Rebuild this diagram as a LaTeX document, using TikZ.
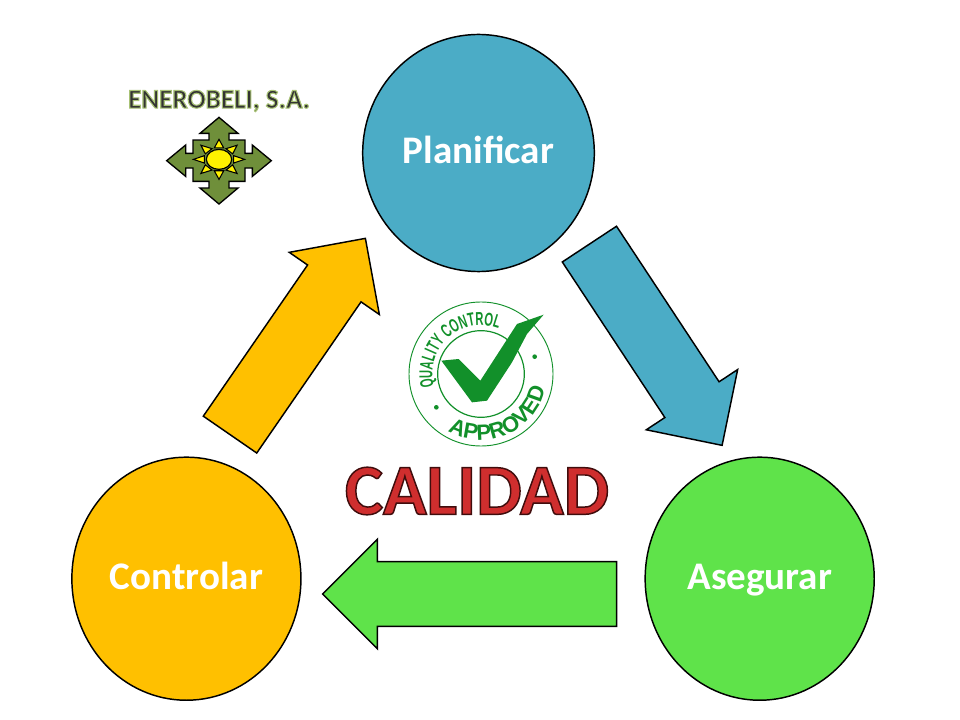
\documentclass[tikz,border=0pt]{standalone}
\usepackage{fontspec}
\setmainfont{Carlito}
\newfontfamily\stampslim[FakeStretch=0.6]{Liberation Sans}
\newfontfamily\stampwide{Liberation Sans}
\usetikzlibrary{shapes.geometric}
\usetikzlibrary{shapes.arrows}
\usetikzlibrary{decorations.text}
\definecolor{planblue}{HTML}{4BACC6}
\definecolor{asegreen}{HTML}{5FE34A}
\definecolor{ctrlyellow}{HTML}{FFC000}
\definecolor{logoolive}{HTML}{6F8F3A}
\definecolor{stampgreen}{HTML}{12902A}
\definecolor{calidadred}{HTML}{CF2E2E}
% fill with one colour and stroke the outline with another
\newcommand{\strokedtext}[3]{\special{pdf:code q 2 Tr #1 RG #2 w}#3\special{pdf:code Q}}
\tikzset{
  stage/.style      = { ellipse, draw=black, line width=1.1pt, inner sep=0pt, text=white,
                        text height=16pt, text depth=0pt,
                        font=\fontsize{29.3}{32}\selectfont\bfseries },
  blockarrow/.style = { single arrow, draw=black, line width=1.1pt, inner xsep=0pt, inner ysep=23.8pt,
                        single arrow head extend=16.7pt, anchor=tail },
  stampline/.style  = { draw=stampgreen, line width=.7pt },
  stamptext/.style  = { decorate, decoration={text along path, text align=center,
                        text color=stampgreen, text={#1}} },
}

\begin{document}
\begin{tikzpicture}[x=.75pt,y=-.75pt]
  \useasboundingbox (0,0) rectangle (960,720);

  \node (plan) [stage,fill=planblue,minimum width=173.7pt,minimum height=177.8pt]   at (478.5,153) {Planificar};
  \node (aseg) [stage,fill=asegreen,minimum width=171.8pt,minimum height=182.3pt]   at (759.7,578.7) {Asegurar};
  \node (ctrl) [stage,fill=ctrlyellow,minimum width=171.8pt,minimum height=182.3pt] at (186.4,578.7) {Controlar};

  \node (planaseg) [blockarrow,fill=planblue,minimum height=180.8pt,rotate=-56.6]  at (589,243.5)   {};
  \node (asegctrl) [blockarrow,fill=asegreen,minimum height=220.5pt,rotate=180]    at (617.3,594)   {};
  \node (ctrlplan) [blockarrow,fill=ctrlyellow,minimum height=178.8pt,rotate=55.4] at (229.6,435.2) {};

  \node (calidad) [text=calidadred,font=\fontsize{54}{58}\selectfont\bfseries] at (477,491)
    {\strokedtext{0.25 0.05 0.05}{1.1}{CALIDAD}};

  % logo
  \node (logoname) [text=black!80,font=\fontsize{20.3}{24}\selectfont\bfseries] at (219,101)
    {\strokedtext{0.66 0.76 0.46}{0.8}{ENEROBELI, S.A.}};
  \begin{scope}[shift={(219,160.7)},x=.25pt,y=-.25pt]
    \draw [fill=logoolive,line width=1pt,line join=miter]
      (0,-130) -- (57,-82) -- (30,-82) -- (30,-62) -- (78,-62) -- (78,-22) -- (100,-22) -- (100,-47)
      -- (157,0) -- (100,47) -- (100,22) -- (78,22) -- (78,62) -- (30,62) -- (30,82) -- (57,82)
      -- (0,130) -- (-57,82) -- (-30,82) -- (-30,62) -- (-78,62) -- (-78,22) -- (-100,22) -- (-100,47)
      -- (-157,0) -- (-100,-47) -- (-100,-22) -- (-78,-22) -- (-78,-62) -- (-30,-62) -- (-30,-82) -- (-57,-82)
      -- cycle;
    \draw [fill=yellow,line width=.9pt] (0,-4) ellipse [x radius=38,y radius=30];
    \foreach \ang in {0,45,...,315}
      \draw [fill=yellow,line width=.8pt,xscale=1.28,yshift=1pt]
        (\ang:60) -- (\ang+18:36) -- (\ang-18:36) -- cycle;
  \end{scope}

  % stamp
  \begin{scope}[shift={(481,374)},x=.25pt,y=.25pt]
    \draw [stampline] (0,0) circle [radius=216];
    \draw [stampline,line width=.9pt] (0,0) circle [radius=130];
    \fill [stampgreen] (-134,-100) circle [radius=7];
    \fill [stampgreen] (161,52) circle [radius=7];
    \fill [stampgreen] (-119,40) -- (-67,45) -- (-2,-20) -- (108,150) -- (188,178) -- (138,120)
      -- (93,35) -- (18,-80) -- (-27,-85) -- cycle;
    \path [stamptext={|\stampslim\fontsize{14}{16}\selectfont\bfseries|QUALITY CONTROL}]
      (220:146) arc [start angle=220,end angle=44,radius=146];
    \path [stamptext={|\stampwide\fontsize{16.5}{18}\selectfont\bfseries|APPROVED}]
      (215:198) arc [start angle=215,end angle=372,radius=198];
  \end{scope}
\end{tikzpicture}
\end{document}
